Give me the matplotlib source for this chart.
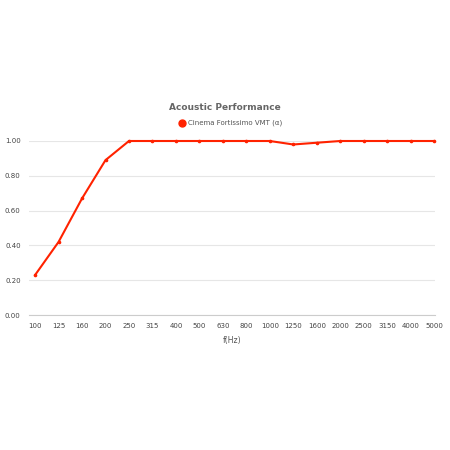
import matplotlib
matplotlib.use("Agg")
import matplotlib.pyplot as plt

freqs = ["100", "125", "160", "200", "250", "315", "400", "500", "630", "800",
         "1000", "1250", "1600", "2000", "2500", "3150", "4000", "5000"]
alpha = [0.23, 0.42, 0.67, 0.89, 1.00, 1.00, 1.00, 1.00, 1.00, 1.00,
         1.00, 0.98, 0.99, 1.00, 1.00, 1.00, 1.00, 1.00]
series_name = "Cinema Fortissimo VMT (α)"
yticks = [0.0, 0.2, 0.4, 0.6, 0.8, 1.0]

color = "#ff2200"
fig = plt.figure(figsize=(4.5, 4.5), dpi=100)
ax = fig.add_axes([29/450, 1 - 315/450, (435 - 29)/450, (315 - 141)/450])
x = list(range(len(freqs)))
ax.plot(x, alpha, color=color, lw=1.5, marker="o", ms=1.6, clip_on=False, zorder=3)
ax.set_xlim(-0.26, len(freqs) - 1 + 0.04)
ax.set_ylim(0, 1)
ax.set_yticks(yticks)
ax.set_yticklabels([f"{v:.2f}" for v in yticks])
ax.set_xticks(x)
ax.set_xticklabels(freqs)
ax.tick_params(axis="both", length=0, labelsize=5, colors="#444444")
ax.tick_params(axis="x", pad=6)
ax.tick_params(axis="y", pad=6)
ax.grid(axis="y", color="#e6e6e6", lw=0.8)
ax.set_axisbelow(True)
for s in ["top", "right", "left"]:
    ax.spines[s].set_visible(False)
ax.spines["bottom"].set_color("#cccccc")
ax.spines["bottom"].set_linewidth(0.8)
ax.set_xlabel("f(Hz)", fontsize=5.5, color="#555555", labelpad=5)

fig.text(225/450, 1 - 107/450, "Acoustic Performance", ha="center", va="center",
         fontsize=6.5, fontweight="bold", color="#666666")
fig.text(188/450, 1 - 123/450, series_name, ha="left", va="center",
         fontsize=5, color="#555555")
fig.add_artist(plt.Line2D([182/450], [1 - 123/450], marker="o", ms=5, color=color,
                          transform=fig.transFigure))

fig.savefig("out.png", dpi=100, facecolor="white")
